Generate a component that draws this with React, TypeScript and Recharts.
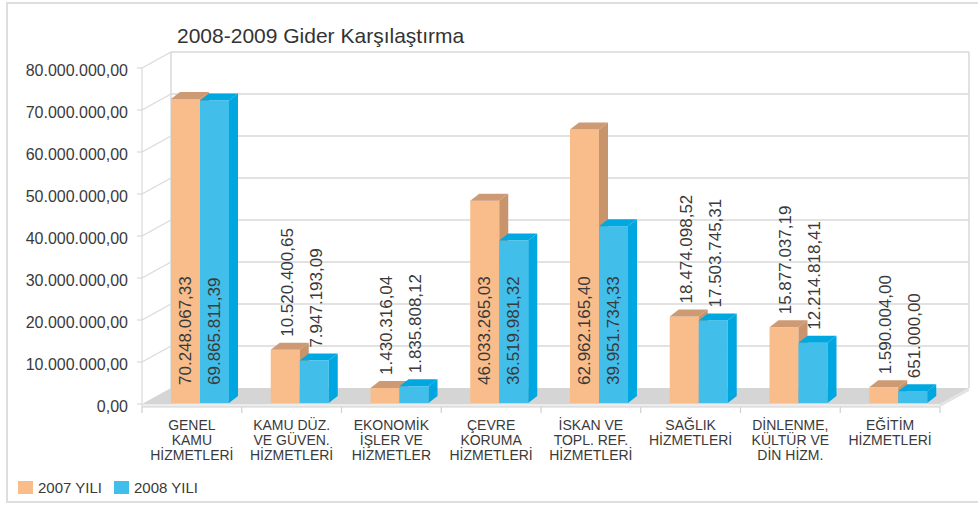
import { BarChart, Bar, XAxis, YAxis, CartesianGrid, LabelList, ReferenceArea } from "recharts";

const categories = [
    "GENEL\nKAMU\nHİZMETLERİ",
    "KAMU DÜZ.\nVE GÜVEN.\nHİZMETLERİ",
    "EKONOMİK\nİŞLER VE\nHİZMETLER",
    "ÇEVRE\nKORUMA\nHİZMETLERİ",
    "İSKAN VE\nTOPL. REF.\nHİZMETLERİ",
    "SAĞLIK\nHİZMETLERİ",
    "DİNLENME,\nKÜLTÜR VE\nDİN HİZM.",
    "EĞİTİM\nHİZMETLERİ",
];

const values2007 = [70248067.33, 10520400.65, 1430316.04, 46033265.03, 62962165.4, 18474098.52, 15877037.19, 1590004.0];
const values2008 = [69865811.39, 7947193.09, 1835808.12, 36519981.32, 39951734.33, 17503745.31, 12214818.41, 651000.0];

const yTicks = [0, 10000000, 20000000, 30000000, 40000000, 50000000, 60000000, 70000000, 80000000];

const seriesNames = ["2007 YILI", "2008 YILI"];

const data = categories.map((name, i) => ({ name, y2007: values2007[i], y2008: values2008[i] }));

// colours
const ORANGE = { front: "#f9bd8b", top: "#cd9a74", side: "#c8946c" };
const BLUE = { front: "#41bfea", top: "#00a8e1", side: "#00a6df" };
const GRID = "#d9d9d9";
const TEXT = "#3a3a3a";
const FONT = "'Liberation Sans', Arial, sans-serif";

// fake 3d geometry
const WALL_DX = 29;
const BACK_DY = -6;
const FRONT_DY = 10;
const BAR_DX = 9;
const BAR_DY = 7;
const BAR_SHIFT = 8;
const BAR_DROP = 9;

const fmt = (v: number) => {
    const [i, d] = v.toFixed(2).split(".");
    return i.replace(/\B(?=(\d{3})+(?!\d))/g, ".") + "," + d;
};

const Bar3D = (props: any) => {
    const { x, y, width, height, colors } = props;
    const left = x + BAR_SHIFT;
    const right = left + width;
    const bottom = y + height + BAR_DROP;
    return (
        <g>
            <rect x={left} y={y} width={width} height={bottom - y} fill={colors.front} />
            <polygon
                points={`${left},${y} ${left + BAR_DX},${y - BAR_DY} ${right + BAR_DX},${y - BAR_DY} ${right},${y}`}
                fill={colors.top}
            />
            <polygon
                points={`${right},${y} ${right + BAR_DX},${y - BAR_DY} ${right + BAR_DX},${bottom - BAR_DY} ${right},${bottom}`}
                fill={colors.side}
            />
        </g>
    );
};

const ValueLabel = (props: any) => {
    const vb = props.viewBox || {};
    const x = props.x ?? vb.x;
    const y = props.y ?? vb.y;
    const width = props.width ?? vb.width;
    const height = props.height ?? vb.height;
    const value = Number(props.value);
    const inside = value > 30000000;
    const cx = x + BAR_SHIFT + width / 2 + (inside ? 0 : 2);
    const cy = inside ? y + height + BAR_DROP - 18 : y - 13;
    return (
        <text
            x={cx}
            y={cy}
            transform={`rotate(-90, ${cx}, ${cy})`}
            textAnchor="start"
            dominantBaseline="central"
            fontSize={17}
            fill={TEXT}
            fontFamily={FONT}
        >
            {fmt(value)}
        </text>
    );
};

const YTick = (props: any) => {
    const { x, y, payload } = props;
    return (
        <text x={x} y={y + FRONT_DY + 2} textAnchor="end" dominantBaseline="central" fontSize={16} fill={TEXT} fontFamily={FONT}>
            {fmt(payload.value)}
        </text>
    );
};

const XTick = (props: any) => {
    const { x, y, payload, index } = props;
    const half = payload.offset || 49.9;
    const lines = String(payload.value).split("\n");
    return (
        <g>
            <line x1={x - half} x2={x - half} y1={y + 13} y2={y + 19} stroke="#cfcfcf" strokeWidth={1.2} />
            {index === categories.length - 1 && (
                <line x1={x + half} x2={x + half} y1={y + 13} y2={y + 19} stroke="#cfcfcf" strokeWidth={1.2} />
            )}
            <text x={x} y={y + 31} textAnchor="middle" fontSize={14} fill={TEXT} fontFamily={FONT}>
                {lines.map((l, i) => (
                    <tspan key={i} x={x} y={y + 31 + i * 15} dominantBaseline="central">
                        {l}
                    </tspan>
                ))}
            </text>
        </g>
    );
};

const gridLine = (p: any) => {
    const yb = p.y1 + BACK_DY;
    const yf = p.y1 + FRONT_DY;
    const isFloor = p.index === 0;
    return (
        <g key={`grid-${p.index}`}>
            {isFloor && (
                <g>
                    <polygon
                        points={`${p.x1},${yf} ${p.x1 + WALL_DX},${yb} ${p.x2 + WALL_DX},${yb} ${p.x2},${yf}`}
                        fill="#d5d5d5"
                    />
                    <rect x={p.x1} y={yf} width={p.x2 - p.x1} height={3} fill="#ececec" />
                    <polygon
                        points={`${p.x2},${yf} ${p.x2 + WALL_DX},${yb} ${p.x2 + WALL_DX},${yb + 3} ${p.x2},${yf + 3}`}
                        fill="#e3e3e3"
                    />
                    <line x1={p.x1} x2={p.x2} y1={yf + 3} y2={yf + 3} stroke="#d2d2d2" strokeWidth={1} />
                </g>
            )}
            {!isFloor && <line x1={p.x1 + WALL_DX} x2={p.x2 + WALL_DX} y1={yb} y2={yb} stroke={GRID} strokeWidth={1.5} />}
            {!isFloor && <line x1={p.x1} y1={yf} x2={p.x1 + WALL_DX} y2={yb} stroke={GRID} strokeWidth={1.2} />}
            <line x1={p.x1 - 5} x2={p.x1} y1={yf} y2={yf} stroke={GRID} strokeWidth={1.2} />
        </g>
    );
};

const Walls = (props: any) => {
    const { x, y, width, height } = props;
    const bottom = y + height;
    return (
        <g>
            <line x1={x} x2={x} y1={y + FRONT_DY} y2={bottom + FRONT_DY + 3} stroke={GRID} strokeWidth={1.2} />
            <line x1={x + WALL_DX} x2={x + WALL_DX} y1={y + BACK_DY} y2={bottom + BACK_DY} stroke={GRID} strokeWidth={1.5} />
            <line
                x1={x + width + WALL_DX}
                x2={x + width + WALL_DX}
                y1={y + BACK_DY}
                y2={bottom + BACK_DY}
                stroke={GRID}
                strokeWidth={1.5}
            />
        </g>
    );
};

export default function App() {
    return (
        <div
            style={{
                position: "absolute",
                left: 0,
                top: 0,
                width: 978,
                height: 506,
                overflow: "hidden",
                background: "#fff",
                fontFamily: FONT,
            }}
        >
            <div
                style={{
                    position: "absolute",
                    left: 6,
                    top: 2,
                    width: 990,
                    height: 501,
                    border: "2px solid #dedede",
                    boxSizing: "border-box",
                }}
            />
            <div
                style={{
                    position: "absolute",
                    left: 177,
                    top: 25,
                    fontSize: 21,
                    lineHeight: "21px",
                    color: "#333",
                    whiteSpace: "nowrap",
                }}
            >
                2008-2009 Gider Karşılaştırma
            </div>
            <div style={{ position: "absolute", left: 0, top: 0 }}>
                <BarChart
                    width={978}
                    height={506}
                    data={data}
                    barGap={0}
                    margin={{ top: 58, right: 38, bottom: 52, left: 0 }}
                >
                    <CartesianGrid vertical={false} horizontal={gridLine} />
                    <ReferenceArea y1={0} y2={80000000} shape={<Walls />} fill="none" stroke="none" />
                    <XAxis
                        dataKey="name"
                        interval={0}
                        height={60}
                        tickSize={0}
                        tickMargin={0}
                        axisLine={false}
                        tickLine={false}
                        tick={<XTick />}
                    />
                    <YAxis
                        width={142}
                        domain={[0, 80000000]}
                        ticks={yTicks}
                        interval={0}
                        tickSize={0}
                        tickMargin={14}
                        axisLine={false}
                        tickLine={false}
                        tick={<YTick />}
                    />
                    <Bar
                        dataKey="y2007"
                        name={seriesNames[0]}
                        barSize={29}
                        fill={ORANGE.front}
                        isAnimationActive={false}
                        shape={(p: any) => <Bar3D {...p} colors={ORANGE} />}
                    >
                        <LabelList dataKey="y2007" content={<ValueLabel />} />
                    </Bar>
                    <Bar
                        dataKey="y2008"
                        name={seriesNames[1]}
                        barSize={29}
                        fill={BLUE.front}
                        isAnimationActive={false}
                        shape={(p: any) => <Bar3D {...p} colors={BLUE} />}
                    >
                        <LabelList dataKey="y2008" content={<ValueLabel />} />
                    </Bar>
                </BarChart>
            </div>
            <div
                style={{
                    position: "absolute",
                    left: 18,
                    top: 480,
                    display: "flex",
                    alignItems: "center",
                    fontSize: 15,
                    lineHeight: "15px",
                    color: TEXT,
                }}
            >
                {seriesNames.map((n, i) => (
                    <div key={n} style={{ display: "flex", alignItems: "center", marginRight: 12 }}>
                        <span
                            style={{
                                display: "inline-block",
                                width: 15,
                                height: 13,
                                background: i === 0 ? ORANGE.front : BLUE.front,
                                marginRight: 5,
                            }}
                        />
                        {n}
                    </div>
                ))}
            </div>
        </div>
    );
}
